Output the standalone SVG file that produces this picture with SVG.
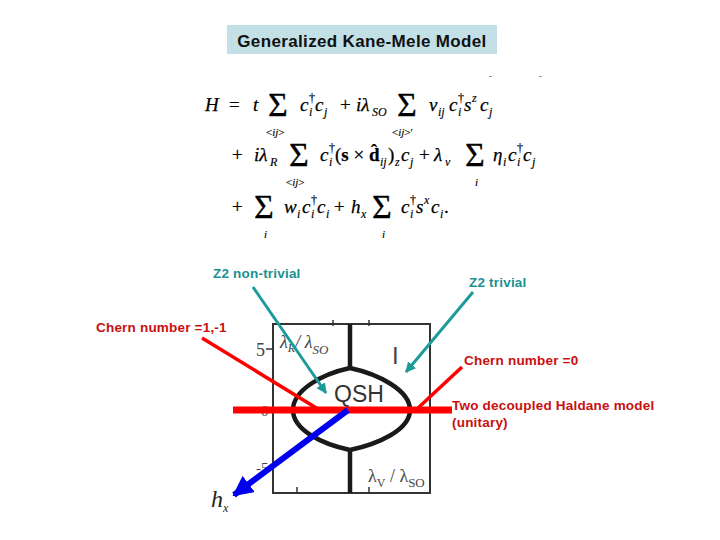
<svg xmlns="http://www.w3.org/2000/svg" width="720" height="540" viewBox="0 0 720 540">
<defs>
<style>
.m{font-family:"Liberation Serif","Times New Roman",serif;font-size:19px;fill:#000;stroke:#000;stroke-width:0.25}
.i{font-style:italic}
.s{font-size:12px;stroke-width:0.15}
.u{font-size:11px;stroke-width:0.15}
.big{font-size:34px;stroke-width:0.3}
.lbl{font-family:"Liberation Sans",Arial,sans-serif;font-size:13.5px;font-weight:bold;letter-spacing:0.2px}
.teal{fill:#1b9191}
.red{fill:#c81010}
.ax{font-family:"Liberation Serif","Times New Roman",serif;fill:#444}
.curve{fill:none;stroke:#1a1a1a;stroke-width:4.5}
</style>
<marker id="ht" viewBox="0 0 10 10" refX="9" refY="5" markerWidth="3.5" markerHeight="3.5" orient="auto"><path d="M0,0L10,5L0,10z" fill="#1d9b9b"/></marker>
<marker id="hb" viewBox="0 0 10 10" refX="9" refY="5" markerWidth="3.4" markerHeight="3.4" orient="auto"><path d="M0,0L10,5L0,10z" fill="#0000ee"/></marker>
</defs>
<rect width="720" height="540" fill="#fff"/>

<g id="title">
<rect x="227" y="25" width="270" height="29" fill="#c2e0e6"/>
<text x="362" y="47" text-anchor="middle" font-family="Liberation Sans,Arial,sans-serif" font-size="17" font-weight="bold" letter-spacing="0.35" fill="#111">Generalized Kane-Mele Model</text>
</g>

<g id="marks" stroke="#999" stroke-width="1">
<line x1="489" y1="76.5" x2="492" y2="76.5"/>
<line x1="539" y1="76.5" x2="542" y2="76.5"/>
</g>

<g id="equation">
<!-- line 1 -->
<text class="m i" x="205" y="111">H</text>
<text class="m" x="229" y="111">=</text>
<text class="m i" x="253" y="111">t</text>
<text class="m big" x="268" y="116">Σ</text>
<text class="m u" x="266" y="136">&lt;<tspan class="i">ij</tspan>&gt;</text>
<text class="m i" x="300" y="111">c</text><text class="m s" x="309" y="102">†</text><text class="m s i" x="309" y="116">i</text>
<text class="m i" x="315" y="111">c</text><text class="m s i" x="324" y="116">j</text>
<text class="m" x="340" y="111">+</text>
<text class="m i" x="356" y="111">iλ</text><text class="m s i" x="372" y="116">SO</text>
<text class="m big" x="397" y="116">Σ</text>
<text class="m u" x="392" y="136">&lt;<tspan class="i">ij</tspan>&gt;′</text>
<text class="m i" x="429" y="111">ν</text><text class="m s i" x="438" y="116">ij</text>
<text class="m i" x="449" y="111">c</text><text class="m s" x="458" y="102">†</text><text class="m s i" x="458" y="116">i</text>
<text class="m i" x="464" y="111">s</text><text class="m s i" x="472" y="102">z</text>
<text class="m i" x="480" y="111">c</text><text class="m s i" x="489" y="116">j</text>
<!-- line 2 -->
<text class="m" x="232" y="161">+</text>
<text class="m i" x="254" y="161">iλ</text><text class="m s i" x="270" y="166">R</text>
<text class="m big" x="289" y="166">Σ</text>
<text class="m u" x="286" y="186">&lt;<tspan class="i">ij</tspan>&gt;</text>
<text class="m i" x="320" y="161">c</text><text class="m s" x="329" y="152">†</text><text class="m s i" x="329" y="166">i</text>
<text class="m" x="335" y="161">(<tspan font-weight="bold">s</tspan> × <tspan font-weight="bold">d̂</tspan></text><text class="m s i" x="380" y="166">ij</text>
<text class="m" x="388" y="161">)</text><text class="m s i" x="395" y="166">z</text>
<text class="m i" x="401" y="161">c</text><text class="m s i" x="410" y="166">j</text>
<text class="m" x="419" y="161">+</text>
<text class="m i" x="434" y="161">λ</text><text class="m s i" x="445" y="166">v</text>
<text class="m big" x="465" y="166">Σ</text>
<text class="m u i" x="475" y="186">i</text>
<text class="m i" x="493" y="161">η</text><text class="m s i" x="503" y="166">i</text>
<text class="m i" x="508" y="161">c</text><text class="m s" x="517" y="152">†</text><text class="m s i" x="517" y="166">i</text>
<text class="m i" x="523" y="161">c</text><text class="m s i" x="532" y="166">j</text>
<!-- line 3 -->
<text class="m" x="232" y="213">+</text>
<text class="m big" x="254" y="218">Σ</text>
<text class="m u i" x="264" y="238">i</text>
<text class="m i" x="284" y="213">w</text><text class="m s i" x="297" y="218">i</text>
<text class="m i" x="302" y="213">c</text><text class="m s" x="311" y="204">†</text><text class="m s i" x="311" y="218">i</text>
<text class="m i" x="317" y="213">c</text><text class="m s i" x="326" y="218">i</text>
<text class="m" x="334" y="213">+</text>
<text class="m i" x="351" y="213">h</text><text class="m s i" x="361" y="218">x</text>
<text class="m big" x="372" y="218">Σ</text>
<text class="m u i" x="382" y="238">i</text>
<text class="m i" x="401" y="213">c</text><text class="m s" x="410" y="204">†</text><text class="m s i" x="410" y="218">i</text>
<text class="m i" x="416" y="213">s</text><text class="m s i" x="424" y="204">x</text>
<text class="m i" x="431" y="213">c</text><text class="m s i" x="440" y="218">i</text>
<text class="m" x="444" y="213">.</text>
</g>

<g id="phase-plot">
<rect x="273" y="324" width="157" height="169" fill="#fff" stroke="#333" stroke-width="2"/>
<g stroke="#333" stroke-width="1.5">
<line x1="333" y1="320" x2="333" y2="326"/>
<line x1="369" y1="320" x2="369" y2="326"/>
<line x1="297" y1="487" x2="297" y2="493"/>
<line x1="369" y1="487" x2="369" y2="493"/>
<line x1="266" y1="349" x2="273" y2="349"/>
<line x1="266" y1="469" x2="273" y2="469"/>
</g>
<line x1="350" y1="324" x2="350" y2="368" stroke="#1a1a1a" stroke-width="4.5"/>
<line x1="350" y1="450" x2="350" y2="493" stroke="#1a1a1a" stroke-width="4.5"/>
<path class="curve" d="M350,368 C322,374 293,390 293,410 C293,430 322,444 350,450 C378,444 410,430 410,410 C410,390 378,374 350,368 Z"/>
<text class="ax" x="256" y="356" font-size="18">5</text>
<text class="ax" x="261" y="416" font-size="15">0</text>
<text class="ax" x="256" y="473" font-size="15">-5</text>
<text class="ax i" x="280" y="348" font-size="18">λ<tspan font-size="12" dy="4">R</tspan><tspan dy="-4">/ λ</tspan><tspan font-size="13" dy="6">SO</tspan></text>
<text x="392" y="364" font-family="Liberation Sans,Arial,sans-serif" font-size="24" fill="#444">I</text>
<text x="334" y="402" font-family="Liberation Sans,Arial,sans-serif" font-size="23" fill="#333">QSH</text>
<text class="ax" x="368" y="482" font-size="18">λ<tspan font-size="12" dy="5">V</tspan><tspan dy="-5"> / λ</tspan><tspan font-size="13" dy="5">SO</tspan></text>
</g>

<g id="hx-label">
<text x="211" y="507" font-family="Liberation Serif,Times New Roman,serif" font-style="italic" font-size="24" fill="#222">h<tspan font-size="12" dy="5">x</tspan></text>
</g>

<g id="z2-nontrivial"><text class="lbl teal" x="213" y="278">Z2 non-trivial</text></g>
<g id="z2-trivial"><text class="lbl teal" x="469" y="287">Z2 trivial</text></g>
<g id="chern-11"><text class="lbl red" x="96" y="332">Chern number =1,-1</text></g>
<g id="chern-0"><text class="lbl red" x="464" y="365">Chern number =0</text></g>
<g id="haldane"><text class="lbl red" x="452" y="410">Two decoupled Haldane model</text><text class="lbl red" x="452" y="427">(unitary)</text></g>

<g id="connectors" fill="none" stroke-linecap="butt">
<line x1="233" y1="410" x2="452" y2="410" stroke="#f00" stroke-width="7"/>
<line x1="202" y1="338" x2="318" y2="409" stroke="#f00" stroke-width="3.5"/>
<line x1="462" y1="367" x2="418" y2="408" stroke="#f00" stroke-width="3.5"/>
<line x1="253" y1="287" x2="326" y2="393" stroke="#1d9b9b" stroke-width="3" marker-end="url(#ht)"/>
<line x1="473" y1="292" x2="406" y2="372" stroke="#1d9b9b" stroke-width="3" marker-end="url(#ht)"/>
<line x1="348" y1="410" x2="234" y2="495" stroke="#0000ee" stroke-width="6" marker-end="url(#hb)"/>
</g>
</svg>
